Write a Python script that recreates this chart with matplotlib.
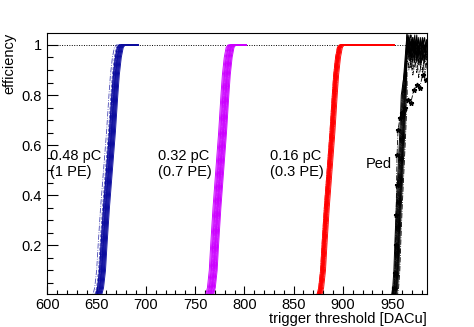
import numpy as np
import matplotlib
matplotlib.use("Agg")
import matplotlib.pyplot as plt
from matplotlib.ticker import MultipleLocator

plt.rcParams["font.family"] = ["Liberation Sans", "DejaVu Sans"]
plt.rcParams["font.size"] = 10.5

# efficiency profile of one channel vs. offset from its 50% point [DACu]
profile_dx = [-11, -9, -7, -5.5, -3, 0, 3, 5.5, 7, 9, 11, 13]
profile_eff = [0.0, 0.03, 0.1, 0.2, 0.35, 0.5, 0.65, 0.8, 0.88, 0.95, 0.99, 1.0]

# 50% points of each channel, per injected charge
blue_mid = [660, 662, 663, 661, 664, 665, 662, 660, 663, 666, 661, 664, 662, 657, 665, 659]
magenta_mid = [773, 776, 775, 777, 772, 778, 774, 776, 773, 779, 775, 777, 771, 776, 778, 774]
red_mid = [885, 886, 887, 884, 888, 886, 885, 887, 889, 886, 884, 887, 886, 888, 885, 887]
ped_mid = [957, 959, 960, 956, 961, 959, 958, 960, 962, 958, 960, 957]

# scan ranges [DACu]
blue_scan = (640, 692)
magenta_scan = (757, 802)
red_scan = (854, 952)

# pedestal: noisy plateau after the rise
ped_top_x = [965, 967, 969, 971, 973, 975, 977, 979, 981, 983, 985]
ped_top = [
    [1.04, 0.97, 1.02, 0.95, 1.01, 0.96, 1.03, 0.94, 1.00, 0.97, 1.02],
    [0.98, 1.03, 0.96, 1.02, 0.94, 1.01, 0.97, 1.03, 0.95, 1.00, 0.96],
    [1.05, 0.99, 0.93, 1.00, 0.97, 1.04, 0.95, 0.99, 1.02, 0.94, 1.01],
    [0.96, 1.01, 1.04, 0.97, 1.02, 0.93, 1.00, 0.96, 1.03, 0.99, 0.95],
    [1.02, 0.94, 0.99, 1.03, 0.96, 0.99, 1.02, 0.92, 0.98, 1.03, 0.97],
    [0.99, 1.04, 0.97, 0.93, 1.00, 1.03, 0.96, 1.01, 0.94, 0.98, 1.02],
    [1.03, 0.96, 1.01, 0.98, 1.04, 0.95, 0.99, 1.02, 0.97, 0.93, 1.00],
    [0.97, 1.00, 0.95, 1.03, 0.98, 1.01, 0.93, 0.97, 1.01, 0.99, 0.94],
    [0.94, 0.92, 0.97, 0.90, 0.95, 0.89, 0.94, 0.91, 0.96, 0.88, 0.93],
    [0.96, 0.90, 0.93, 0.88, 0.92, 0.95, 0.87, 0.91, 0.89, 0.94, 0.90],
    [1.01, 0.98, 1.04, 0.99, 0.96, 1.02, 1.00, 0.95, 1.03, 0.98, 1.01],
    [0.95, 0.99, 0.91, 0.96, 0.93, 0.97, 0.92, 0.95, 0.90, 0.96, 0.92],
]

# one pedestal channel with markers
ped_mk_x = [951, 952, 953, 953.5, 954, 954.5, 955, 956, 958, 960, 963, 966, 969, 972, 975, 978, 981, 984]
ped_mk_y = [0.0, 0.03, 0.09, 0.2, 0.32, 0.44, 0.56, 0.66, 0.71, 0.73, 0.75, 0.78, 0.77, 0.82, 0.84, 0.83, 0.88, 0.86]

labels = ["0.48 pC\n(1 PE)", "0.32 pC\n(0.7 PE)", "0.16 pC\n(0.3 PE)", "Ped"]
label_x = [603, 712, 826, 923]

styles = ["-", "-", "-", "-.", "-", "-", "-", "-", "-", "-", "-", "-", "-", "-.", "-", "--"]

fig = plt.figure(figsize=(4.74, 3.27), dpi=100)
ax = fig.add_axes([0.1, 0.1, 0.8, 0.8])

ax.axhline(1.0, color="black", ls=(0, (1, 1.5)), lw=0.7, zorder=1)

dx = np.array(profile_dx, dtype=float)
eff = np.array(profile_eff)


def draw_group(mids, scan, color, width=1.0):
    for i, m in enumerate(mids):
        x = np.concatenate([[scan[0]], m + dx * width, [scan[1]]])
        y = np.concatenate([[0.0], eff, [1.0]])
        ls = styles[i % len(styles)]
        ax.plot(x, y, color=color, lw=0.65 if ls == "-" else 0.6, ls=ls,
                alpha=1.0 if ls == "-" else 0.75, zorder=2)


draw_group(blue_mid, blue_scan, "#0c0c9e")
draw_group(magenta_mid, magenta_scan, "#cc00ff", width=0.95)
draw_group(red_mid, red_scan, "#ff0000", width=0.95)

for i, m in enumerate(ped_mid):
    keep = dx <= 5.5
    x = np.concatenate([[944], m + dx[keep] * 0.6, ped_top_x])
    y = np.concatenate([[0.0], eff[keep], ped_top[i]])
    ls = "-" if i < 8 else "-."
    ax.plot(x, y, color="black", lw=0.7 if ls == "-" else 0.6, ls=ls, zorder=3)

ax.plot(ped_mk_x, ped_mk_y, color="black", lw=0.6, ls="-.", marker="*",
        ms=3.5, zorder=3)

for t, lx in zip(labels, label_x):
    ax.text(lx, 0.525, t, ha="left", va="center", linespacing=1.2)

ax.set_xlim(600, 985)
ax.set_ylim(0.004, 1.049)
ax.xaxis.set_major_locator(MultipleLocator(50))
ax.xaxis.set_minor_locator(MultipleLocator(10))
ax.set_yticks([0.2, 0.4, 0.6, 0.8, 1.0])
ax.set_yticklabels(["0.2", "0.4", "0.6", "0.8", "1"])
ax.yaxis.set_minor_locator(MultipleLocator(0.05))
ax.tick_params(axis="x", which="major", direction="in", length=5.8, width=0.8, pad=3)
ax.tick_params(axis="x", which="minor", direction="in", length=2.9, width=0.8)
ax.tick_params(axis="y", which="major", direction="in", length=8, width=0.8, pad=4)
ax.tick_params(axis="y", which="minor", direction="in", length=4, width=0.8)
for s in ax.spines.values():
    s.set_linewidth(0.8)

ax.set_xlabel("trigger threshold [DACu]", loc="right", labelpad=0)
ax.set_ylabel("efficiency", loc="top", labelpad=4)

fig.savefig("out.png", dpi=100)
